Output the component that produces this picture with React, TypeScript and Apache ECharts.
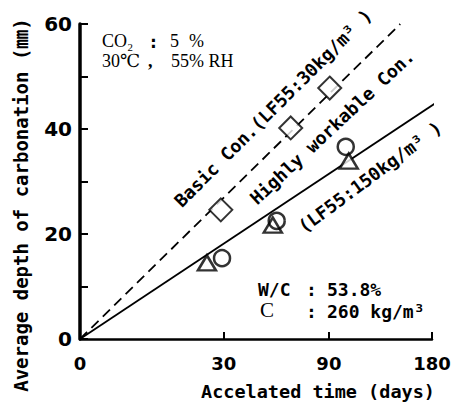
import React, { useEffect, useRef } from "react";
import * as echarts from "echarts";

// x axis: accelerated time (days), drawn on a sqrt(t) scale
const xTickDays = [0, 30, 90, 180];
const yTickLabels = [0, 20, 40, 60];

// Basic Con. (LF55:30kg/m3) — diamonds
const basicDays = [28.8, 64.5, 90.6];
const basicDepth = [24.6, 40.2, 47.8];

// Highly workable Con. (LF55:150kg/m3) — circles
const hwCircleDays = [29.3, 56.2, 102.6];
const hwCircleDepth = [15.4, 22.5, 36.6];

// Highly workable Con. — triangles
const hwTriDays = [23.4, 54.0, 104.9];
const hwTriDepth = [14.5, 21.7, 33.9];

// regression lines (endpoints: days, depth)
const basicLineDays = [0, 149];
const basicLineDepth = [0, 60.0];
const hwLineDays = [0, 185];
const hwLineDepth = [0, 45.1];

const sq = (d: number) => Math.sqrt(d);
const pts = (days: number[], depth: number[]) => days.map((d, i) => [sq(d), depth[i]]);

const MONO = "'DejaVu Sans Mono', 'Liberation Mono', 'Noto Sans CJK JP', monospace";
const SERIF = "'Liberation Serif', 'DejaVu Serif', 'Noto Sans CJK JP', serif";
const BOLDSANS = "'DejaVu Sans', 'Liberation Sans', sans-serif";

const txt = (x: number, y: number, text: string, font: string, extra: any = {}) => ({
  type: "text",
  x,
  y,
  ...extra,
  style: { text, font, fill: "#000", align: "left", verticalAlign: "middle", ...(extra.style || {}) },
});

export default function App() {
  const ref = useRef<HTMLDivElement>(null);
  useEffect(() => {
    if (!ref.current) return;
    const chart = echarts.init(ref.current, undefined, { renderer: "svg" });
    const xVals = xTickDays.map(sq);
    const rot = (deg: number) => (deg * Math.PI) / 180;
    chart.setOption({
      animation: false,
      backgroundColor: "#ffffff",
      grid: { left: 80, right: 26, top: 24, bottom: 65, containLabel: false, outerBoundsMode: "none" },
      xAxis: {
        type: "value",
        min: 0,
        max: Math.sqrt(180),
        axisLine: { show: true, lineStyle: { color: "#000", width: 2.5 } },
        axisTick: { show: true, inside: true, length: 7, lineStyle: { color: "#000", width: 2 }, customValues: xVals },
        axisLabel: {
          customValues: xVals,
          formatter: (v: number) => String(Math.round(v * v)),
          fontFamily: BOLDSANS,
          fontWeight: "bold",
          fontSize: 18,
          color: "#000",
          margin: 15,
        },
        splitLine: { show: false },
      },
      yAxis: {
        type: "value",
        min: 0,
        max: 60,
        interval: 10,
        axisLine: { show: true, lineStyle: { color: "#000", width: 3.5 } },
        axisTick: { show: true, inside: true, length: 8, lineStyle: { color: "#000", width: 2 } },
        axisLabel: {
          customValues: yTickLabels,
          fontFamily: BOLDSANS,
          fontWeight: "bold",
          fontSize: 20,
          color: "#000",
          margin: 8,
        },
        splitLine: { show: false },
      },
      series: [
        {
          type: "line",
          data: pts(basicLineDays, basicLineDepth),
          symbol: "none",
          clip: false,
          lineStyle: { color: "#000", width: 1.8, type: [10, 6] },
          z: 1,
        },
        {
          type: "line",
          data: pts(hwLineDays, hwLineDepth),
          symbol: "none",
          clip: false,
          lineStyle: { color: "#000", width: 1.8 },
          z: 1,
        },
        {
          type: "scatter",
          data: pts(basicDays, basicDepth),
          symbol: "diamond",
          symbolSize: 23,
          itemStyle: { color: "#fff", borderColor: "#000", borderWidth: 2 },
          z: 3,
        },
        {
          type: "scatter",
          data: pts(hwTriDays, hwTriDepth),
          symbol: "triangle",
          symbolSize: [18, 15],
          itemStyle: { color: "#fff", borderColor: "#000", borderWidth: 2.5 },
          z: 3,
        },
        {
          type: "scatter",
          data: pts(hwCircleDays, hwCircleDepth),
          symbol: "circle",
          symbolSize: 16,
          itemStyle: { color: "rgba(255,255,255,0)", borderColor: "#000", borderWidth: 2.5 },
          z: 4,
        },
      ],
      graphic: [
        // axis titles
        txt(318, 391, "Accelated time (days)", `bold 18.5px ${MONO}`, { style: { align: "center" } }),
        txt(21, 205, "Average depth of carbonation (㎜)", `bold 19px ${MONO}`, {
          rotation: rot(90),
          style: { align: "center" },
        }),
        // conditions, top-left
        txt(102, 41, "CO₂", `18px ${SERIF}`),
        txt(148, 41, ":", `bold 18px ${MONO}`),
        txt(170, 41, "5", `18px ${SERIF}`),
        txt(189, 41, "%", `18px ${SERIF}`),
        txt(102, 61, "30℃", `18px ${SERIF}`),
        txt(148, 61, ",", `bold 18px ${SERIF}`),
        txt(171, 61, "55% RH", `18px ${SERIF}`),
        // mix info, bottom-right
        txt(258, 289, "W/C", `bold 18px ${MONO}`),
        txt(306, 289, ":", `bold 18px ${MONO}`),
        txt(327, 289, "53.8%", `bold 18px ${MONO}`),
        txt(260, 310, "C", `21px ${SERIF}`),
        txt(306, 311, ":", `bold 18px ${MONO}`),
        txt(327, 311, "260 kg/m³", `bold 18px ${MONO}`),
        // line labels
        txt(273, 108, "Basic Con.(LF55:30kg/m³ )", `bold 18px ${MONO}`, {
          rotation: rot(45),
          style: { align: "center" },
        }),
        txt(332, 127, "Highly workable Con.", `bold 18px ${MONO}`, {
          rotation: rot(43),
          style: { align: "center" },
        }),
        txt(370, 177, "(LF55:150kg/m³ )", `bold 18px ${MONO}`, {
          rotation: rot(36.5),
          style: { align: "center" },
        }),
      ],
    });
    return () => chart.dispose();
  }, []);
  return <div ref={ref} style={{ position: "fixed", left: 0, top: 0, width: 458, height: 404 }} />;
}
